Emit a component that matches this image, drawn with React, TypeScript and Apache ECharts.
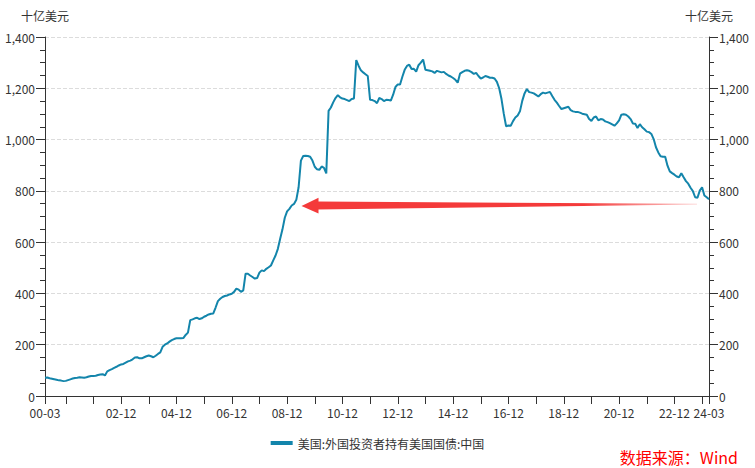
import { useEffect, useRef } from 'react';
import * as echarts from 'echarts';

// 美国:外国投资者持有美国国债:中国 (十亿美元), monthly from 2000-03 to 2024-03
const y2000 = [71, 72, 69, 67, 65, 63, 61, 60, 58, 59];
const y2001 = [62, 65, 68, 70, 71, 73, 72, 71, 73, 76, 78, 78];
const y2002 = [79, 82, 84, 85, 80, 96, 101, 105, 110, 114, 119, 123];
const y2003 = [125, 130, 135, 138, 143, 150, 151, 147, 147, 151, 155, 158];
const y2004 = [155, 151, 157, 164, 170, 192, 200, 205, 212, 218, 222, 225];
const y2005 = [225, 225, 226, 238, 247, 296, 299, 303, 305, 300, 303, 309];
const y2006 = [313, 318, 321, 322, 345, 370, 379, 386, 390, 392, 396, 399];
const y2007 = [406, 419, 415, 406, 412, 477, 477, 470, 464, 458, 460, 481];
const y2008 = [490, 487, 496, 502, 509, 529, 548, 574, 613, 650, 695, 720];
const y2009 = [730, 743, 749, 765, 814, 918, 936, 937, 936, 933, 918, 894];
const y2010 = [884, 882, 895, 890, 868, 1112, 1125, 1145, 1162, 1173, 1165, 1160];
const y2011 = [1158, 1154, 1150, 1158, 1160, 1310, 1288, 1270, 1262, 1255, 1248, 1155];
const y2012 = [1154, 1150, 1142, 1162, 1158, 1150, 1155, 1154, 1152, 1175, 1205, 1215];
const y2013 = [1215, 1245, 1272, 1287, 1292, 1275, 1276, 1265, 1290, 1300, 1312, 1272];
const y2014 = [1270, 1268, 1266, 1260, 1268, 1265, 1262, 1264, 1256, 1250, 1246, 1240];
const y2015 = [1233, 1222, 1257, 1263, 1268, 1270, 1268, 1263, 1256, 1260, 1248, 1238];
const y2016 = [1242, 1248, 1245, 1241, 1241, 1238, 1225, 1200, 1158, 1100, 1052, 1055];
const y2017 = [1054, 1072, 1086, 1094, 1110, 1151, 1180, 1197, 1185, 1183, 1180, 1174];
const y2018 = [1168, 1177, 1183, 1180, 1183, 1186, 1170, 1155, 1144, 1131, 1119, 1122];
const y2019 = [1125, 1128, 1115, 1110, 1108, 1108, 1105, 1101, 1099, 1097, 1080, 1073];
const y2020 = [1086, 1090, 1075, 1080, 1078, 1071, 1068, 1064, 1059, 1054, 1063, 1075];
const y2021 = [1097, 1099, 1097, 1090, 1080, 1063, 1062, 1045, 1060, 1048, 1040, 1031];
const y2022 = [1029, 1022, 1002, 970, 950, 935, 933, 933, 898, 876, 869, 863];
const y2023 = [856, 853, 869, 853, 838, 828, 812, 799, 775, 773, 801, 814];
const y2024 = [782, 775, 767];

const holdings = [
  ...y2000, ...y2001, ...y2002, ...y2003, ...y2004, ...y2005, ...y2006, ...y2007,
  ...y2008, ...y2009, ...y2010, ...y2011, ...y2012, ...y2013, ...y2014, ...y2015,
  ...y2016, ...y2017, ...y2018, ...y2019, ...y2020, ...y2021, ...y2022, ...y2023, ...y2024,
];

// month labels "YY-MM"
const months: string[] = [];
for (let i = 0; i < holdings.length; i++) {
  const m = 2 + i; // 2000-03 = month index 2
  const yy = Math.floor(m / 12);
  const mm = (m % 12) + 1;
  months.push(String(yy).padStart(2, '0') + '-' + String(mm).padStart(2, '0'));
}

const seriesName = '美国:外国投资者持有美国国债:中国';
const unitName = '十亿美元';
const sourceText = '数据来源：Wind';

const FONT = "'Microsoft YaHei', 'Noto Sans CJK SC', sans-serif";
const LINE_COLOR = '#1385ab';
const AXIS_COLOR = '#333';

const App = () => {
  const chartRef = useRef<HTMLDivElement>(null);

  useEffect(() => {
    if (!chartRef.current) return;
    const chart = echarts.init(chartRef.current, undefined, { renderer: 'svg' });
    const last = months.length - 1;

    const yAxisBase = {
      type: 'value',
      min: 0,
      max: 1400,
      interval: 200,
      name: unitName,
      nameLocation: 'end',
      nameGap: 16,
      nameTextStyle: { color: AXIS_COLOR, fontSize: 12, fontFamily: FONT },
      axisLine: { show: true, lineStyle: { color: AXIS_COLOR } },
      axisTick: { show: true, length: 9, lineStyle: { color: AXIS_COLOR } },
      minorTick: { show: true, splitNumber: 4, length: 5, lineStyle: { color: AXIS_COLOR } },
      axisLabel: {
        color: AXIS_COLOR,
        fontSize: 12,
        fontFamily: FONT,
        margin: 10,
        formatter: (v: number) => v.toLocaleString('en-US'),
      },
    };

    chart.setOption({
      animation: false,
      backgroundColor: '#fff',
      textStyle: { fontFamily: FONT },
      grid: { left: 45, right: 46, top: 37, bottom: 72, containLabel: false },
      legend: {
        data: [seriesName],
        top: 432,
        left: 'center',
        icon: 'rect',
        itemWidth: 22,
        itemHeight: 4,
        itemGap: 8,
        textStyle: { color: AXIS_COLOR, fontSize: 12, fontFamily: FONT },
      },
      xAxis: {
        type: 'category',
        data: months,
        boundaryGap: false,
        axisLine: { lineStyle: { color: AXIS_COLOR } },
        axisTick: {
          length: 8,
          lineStyle: { color: AXIS_COLOR },
          interval: (i: number, v: string) => i === 0 || i === last || v.endsWith('-12'),
        },
        axisLabel: {
          color: AXIS_COLOR,
          fontSize: 12,
          fontFamily: FONT,
          margin: 10,
          interval: (i: number, v: string) => {
            if (i === 0 || i === last) return true;
            const yy = parseInt(v.slice(0, 2), 10);
            return v.endsWith('-12') && yy > 0 && yy % 2 === 0;
          },
        },
        splitLine: { show: false },
      },
      yAxis: [
        {
          ...yAxisBase,
          position: 'left',
          splitLine: { show: true, lineStyle: { color: '#dcdcdc', type: 'dashed' } },
        },
        {
          ...yAxisBase,
          position: 'right',
          splitLine: { show: false },
        },
      ],
      series: [
        {
          name: seriesName,
          type: 'line',
          data: holdings,
          yAxisIndex: 0,
          symbol: 'none',
          itemStyle: { color: LINE_COLOR },
          lineStyle: { color: LINE_COLOR, width: 2 },
        },
      ],
      graphic: [
        {
          type: 'polygon',
          z: 100,
          shape: { points: [[317, 201.6], [697, 203.8], [697, 204.6], [317, 209.4]] },
          style: {
            fill: new echarts.graphic.LinearGradient(0, 0, 1, 0, [
              { offset: 0, color: '#f43a3a' },
              { offset: 0.7, color: '#f43a3a' },
              { offset: 1, color: 'rgba(244,58,58,0.25)' },
            ]),
          },
        },
        {
          type: 'polygon',
          z: 100,
          shape: { points: [[301.5, 206], [318.5, 197.8], [318.5, 213.6]] },
          style: { fill: '#f43a3a' },
        },
        {
          type: 'text',
          right: 17,
          top: 448,
          z: 100,
          style: {
            text: sourceText,
            fill: '#ff0000',
            fontSize: 16,
            lineHeight: 18,
            fontFamily: FONT,
          },
        },
      ],
    });

    return () => {
      chart.dispose();
    };
  }, []);

  return (
    <div
      ref={chartRef}
      style={{ position: 'fixed', left: 0, top: 0, width: 755, height: 468, background: '#fff' }}
    />
  );
};

export default App;
